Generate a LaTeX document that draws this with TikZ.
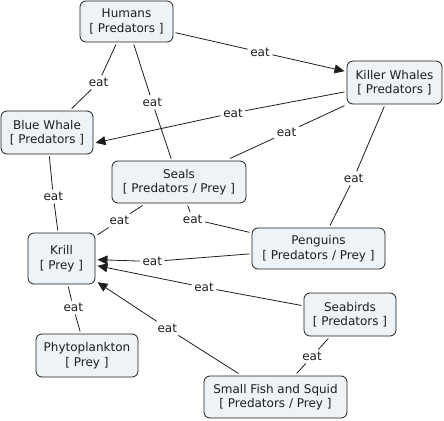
\documentclass[tikz,border=0pt]{standalone}
\usepackage{fontspec}
\setmainfont{DejaVu Sans}
\usetikzlibrary{arrows.meta,calc}
\definecolor{cfill}{RGB}{237,243,246}
\definecolor{ink}{RGB}{30,30,30}
\begin{document}
\begin{tikzpicture}[x=1pt,y=-1pt,
  concept/.style={draw=ink, line width=0.8pt, fill=cfill, rounded corners=6pt,
    align=center, inner sep=0pt, outer sep=2.5pt,
    font=\fontsize{12}{14.5}\selectfont, text=ink},
  lbl/.style={inner sep=2.5pt, font=\fontsize{12}{14}\selectfont, text=ink},
  link/.style={draw=ink, line width=0.8pt},
  arr/.style={-{Triangle[length=10pt,width=9pt]}}
]
\useasboundingbox (0,0) rectangle (444,420);

% concepts
\node[concept, minimum width=93pt, minimum height=41pt] (hum) at (126.5,21.5) {Humans\\{[} Predators {]}};
\node[concept, minimum width=95pt, minimum height=43pt] (kw) at (394.5,82.5) {Killer Whales\\{[} Predators {]}};
\node[concept, minimum width=92pt, minimum height=43pt] (bw) at (47,132.5) {Blue Whale\\{[} Predators {]}};
\node[concept, minimum width=134pt, minimum height=42pt] (seals) at (179,182) {Seals\\{[} Predators / Prey {]}};
\node[concept, minimum width=133pt, minimum height=41pt] (peng) at (318.5,248.5) {Penguins\\{[} Predators / Prey {]}};
\node[concept, minimum width=67pt, minimum height=51pt] (krill) at (61.5,258.5) {Krill\\{[} Prey {]}};
\node[concept, minimum width=102pt, minimum height=43pt] (phyto) at (87,355.5) {Phytoplankton\\{[} Prey {]}};
\node[concept, minimum width=92pt, minimum height=43pt] (seab) at (350,314.5) {Seabirds\\{[} Predators {]}};
\node[concept, minimum width=143pt, minimum height=42pt] (fish) at (275.5,397) {Small Fish and Squid\\{[} Predators / Prey {]}};

% linking phrases
\node[lbl] (l1) at (260,52) {eat};
\node[lbl] (l2) at (98.5,82.5) {eat};
\node[lbl] (l3) at (152.3,102.3) {eat};
\node[lbl] (l4) at (233,113) {eat};
\node[lbl] (l5) at (286.5,132.5) {eat};
\node[lbl] (l6) at (353.7,178.3) {eat};
\node[lbl] (l7) at (53.3,196.5) {eat};
\node[lbl] (l8) at (119.3,220.5) {eat};
\node[lbl] (l9) at (192.7,219) {eat};
\node[lbl] (l10) at (152.3,261.5) {eat};
\node[lbl] (l11) at (204,287.3) {eat};
\node[lbl] (l12) at (167.3,328.3) {eat};
\node[lbl] (l13) at (73.3,307.5) {eat};
\node[lbl] (l14) at (312,356.5) {eat};

% connectors
\draw[link] (hum) -- (l1); \draw[link,arr] (l1) -- (kw);
\draw[link] (hum) -- (l2); \draw[link] (l2) -- (bw);
\draw[link] (hum) -- (l3); \draw[link] (l3) -- (seals);
\draw[link] (kw) -- (l4); \draw[link,arr] (l4) -- (bw.-12);
\draw[link] (kw) -- (l5); \draw[link] (l5) -- (seals);
\draw[link] (kw) -- (l6); \draw[link] (l6) -- (peng);
\draw[link] (bw) -- (l7); \draw[link] (l7) -- (krill);
\draw[link] (seals) -- (l8); \draw[link] (l8) -- (krill);
\draw[link] (seals) -- (l9); \draw[link] (l9) -- (peng);
\draw[link] (peng) -- (l10); \draw[link,arr] (l10) -- (krill);
\draw[link] (seab) -- (l11); \draw[link,arr] (l11) -- (krill);
\draw[link] (fish) -- (l12); \draw[link,arr] (l12) -- (krill);
\draw[link] (krill) -- (l13); \draw[link] (l13) -- (phyto);
\draw[link] (seab) -- (l14); \draw[link] (l14) -- (fish);
\end{tikzpicture}
\end{document}
